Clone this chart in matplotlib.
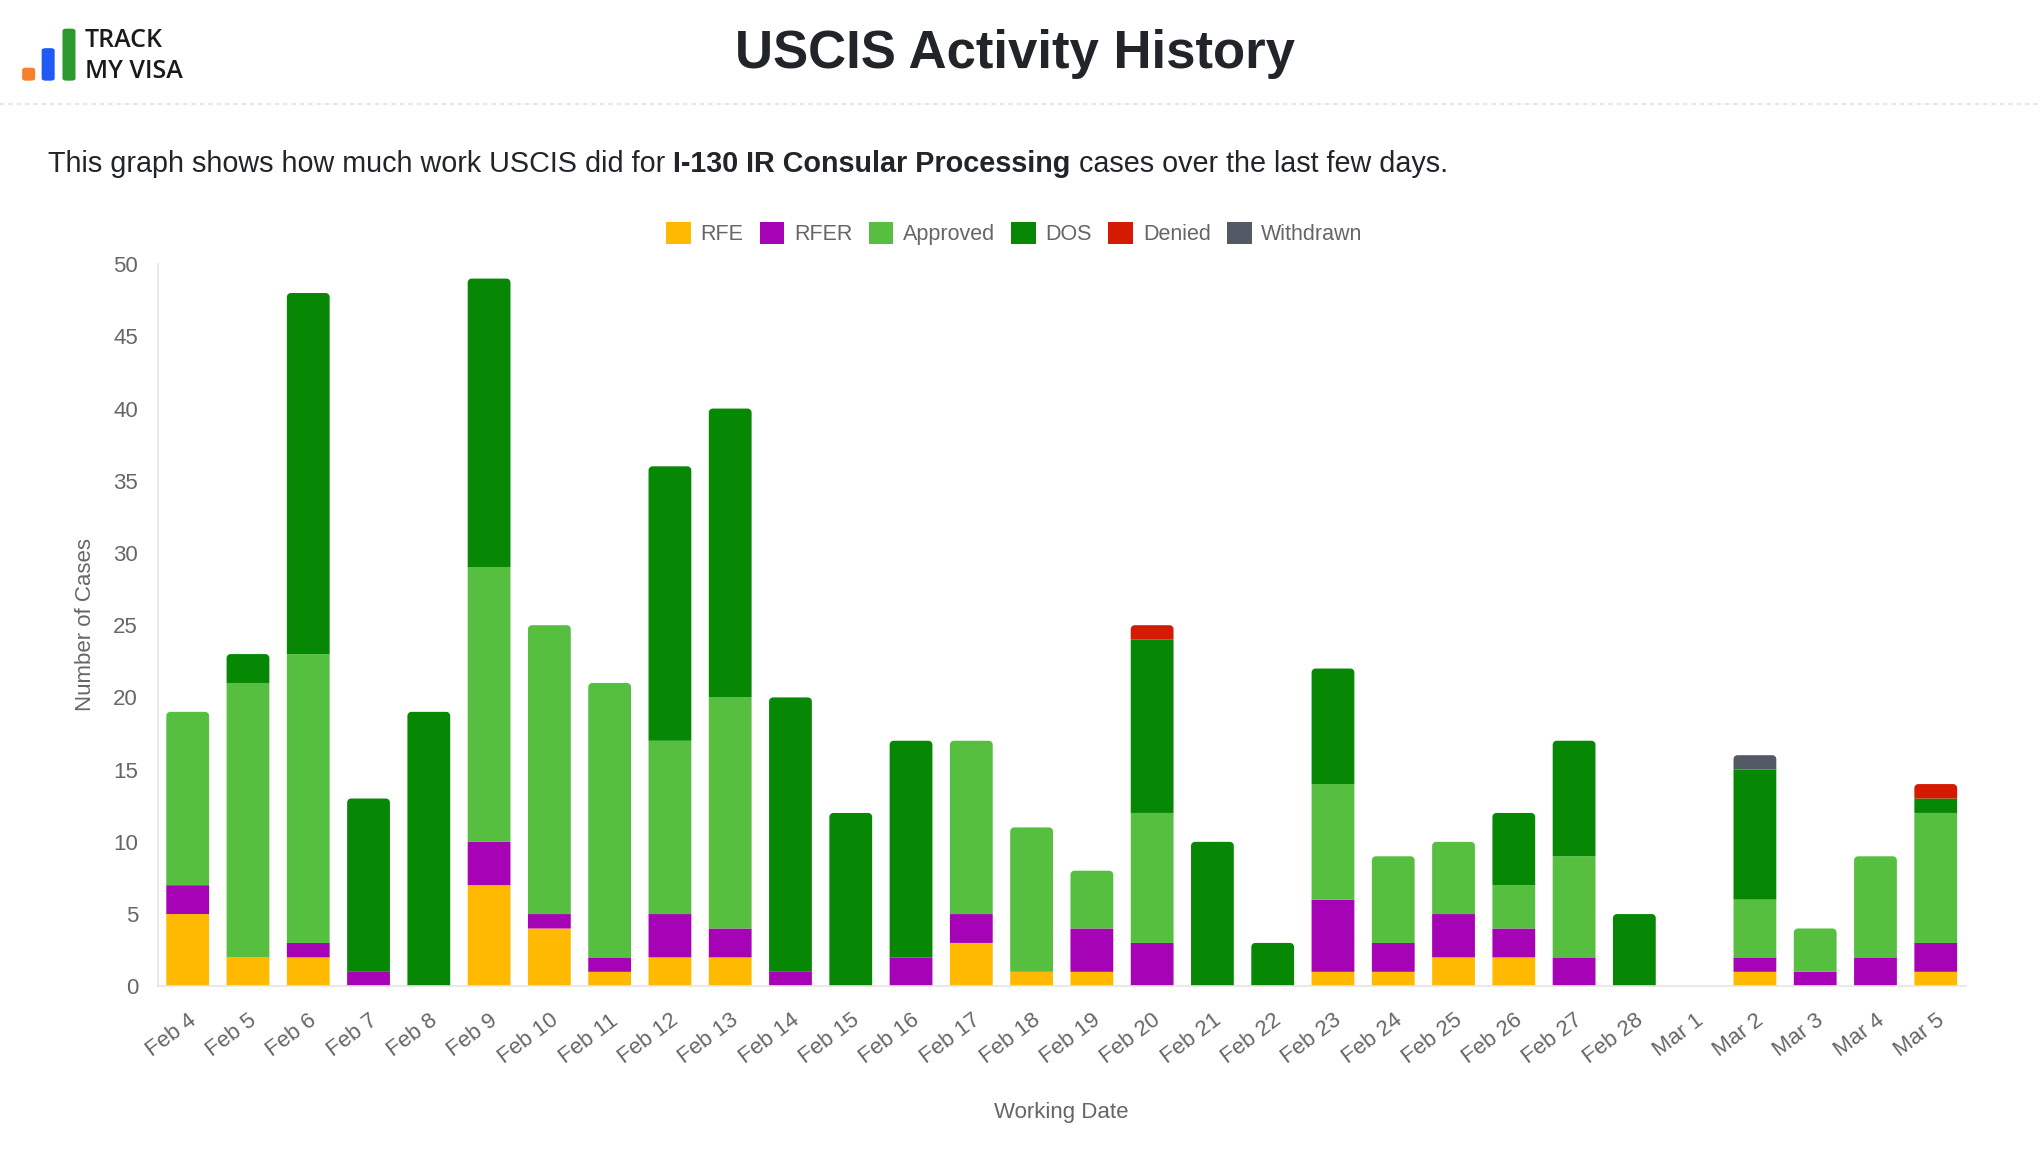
import numpy as np
import matplotlib
matplotlib.use("Agg")
import matplotlib.pyplot as plt
from matplotlib.patches import Patch, FancyBboxPatch, Rectangle, Polygon
from matplotlib.lines import Line2D

plt.rcParams['font.family'] = ['Liberation Sans', 'DejaVu Sans']

# data
dates = ["Feb 4", "Feb 5", "Feb 6", "Feb 7", "Feb 8", "Feb 9", "Feb 10", "Feb 11",
         "Feb 12", "Feb 13", "Feb 14", "Feb 15", "Feb 16", "Feb 17", "Feb 18", "Feb 19",
         "Feb 20", "Feb 21", "Feb 22", "Feb 23", "Feb 24", "Feb 25", "Feb 26", "Feb 27",
         "Feb 28", "Mar 1", "Mar 2", "Mar 3", "Mar 4", "Mar 5"]
rfe       = [5, 2, 2, 0, 0, 7, 4, 1, 2, 2, 0, 0, 0, 3, 1, 1, 0, 0, 0, 1, 1, 2, 2, 0, 0, 0, 1, 0, 0, 1]
rfer      = [2, 0, 1, 1, 0, 3, 1, 1, 3, 2, 1, 0, 2, 2, 0, 3, 3, 0, 0, 5, 2, 3, 2, 2, 0, 0, 1, 1, 2, 2]
approved  = [12, 19, 20, 0, 0, 19, 20, 19, 12, 16, 0, 0, 0, 12, 10, 4, 9, 0, 0, 8, 6, 5, 3, 7, 0, 0, 4, 3, 7, 9]
dos       = [0, 2, 25, 12, 19, 20, 0, 0, 19, 20, 19, 12, 15, 0, 0, 0, 12, 10, 3, 8, 0, 0, 5, 8, 5, 0, 9, 0, 0, 1]
denied    = [0, 0, 0, 0, 0, 0, 0, 0, 0, 0, 0, 0, 0, 0, 0, 0, 1, 0, 0, 0, 0, 0, 0, 0, 0, 0, 0, 0, 0, 1]
withdrawn = [0, 0, 0, 0, 0, 0, 0, 0, 0, 0, 0, 0, 0, 0, 0, 0, 0, 0, 0, 0, 0, 0, 0, 0, 0, 0, 1, 0, 0, 0]

series = [("RFE", rfe, "#ffba00"),
          ("RFER", rfer, "#a503b5"),
          ("Approved", approved, "#57bf40"),
          ("DOS", dos, "#068805"),
          ("Denied", denied, "#d41a00"),
          ("Withdrawn", withdrawn, "#545966")]

fig = plt.figure(figsize=(20.41, 11.58), dpi=100)
ax = fig.add_axes([0.0772, 0.1483, 0.886, 0.6236])
ax.set_xlim(-0.5, len(dates) - 0.5)
ax.set_ylim(0, 50)

x = np.arange(len(dates))
width = 0.71
totals = np.sum([np.array(v) for _, v, _ in series], axis=0)
# corner radius of ~4 px, expressed in each data direction
px_x = ax.bbox.width / len(dates)
px_y = ax.bbox.height / 50.0
rx = 4.0 / px_x
ry = 4.0 / px_y


def top_rounded(x0, b, w, h, color):
    r_y = min(ry, h)
    t = np.linspace(0, np.pi / 2, 8)
    right = [(x0 + w - rx + rx * np.cos(a), b + h - r_y + r_y * np.sin(a)) for a in t]
    left = [(x0 + rx - rx * np.cos(a), b + h - r_y + r_y * np.sin(a)) for a in t[::-1]]
    pts = [(x0, b), (x0 + w, b)] + right + left
    return Polygon(pts, closed=True, facecolor=color, edgecolor='none', snap=False)


bottom = np.zeros(len(dates))
for name, vals, col in series:
    vals = np.array(vals, dtype=float)
    for i in range(len(dates)):
        h = vals[i]
        if h <= 0:
            continue
        b = bottom[i]
        if np.isclose(b + h, totals[i]):
            ax.add_patch(top_rounded(x[i] - width / 2, b, width, h, col))
        else:
            ax.add_patch(Rectangle((x[i] - width / 2, b), width, h, facecolor=col,
                                   edgecolor='none', snap=False))
    bottom += vals

ax.set_yticks(np.arange(0, 51, 5))
ax.set_xticks(x)
ax.set_xticklabels(dates, rotation=37, ha='right', va='top', rotation_mode='anchor')
ax.tick_params(axis='both', length=0, labelsize=16, labelcolor='#666666')
ax.tick_params(axis='y', pad=14)
ax.tick_params(axis='x', pad=17)
for s in ['top', 'right']:
    ax.spines[s].set_visible(False)
for s in ['left', 'bottom']:
    ax.spines[s].set_color('#e5e5e5')
    ax.spines[s].set_linewidth(1.2)

fig.text(0.042, 0.461, "Number of Cases", rotation=90, ha='center', va='center',
         fontsize=16, color='#666666')
fig.text(0.520, 0.039, "Working Date", ha='center', va='center',
         fontsize=16, color='#666666')

# legend
handles = [Patch(facecolor=c, edgecolor='none', label=n) for n, _, c in series]
fig.legend(handles=handles, loc='center', bbox_to_anchor=(0.497, 0.798), ncol=6,
           frameon=False, fontsize=15.5, labelcolor='#666666', handlelength=1.15,
           handleheight=1.15, handletextpad=0.45, columnspacing=0.75)

# header
fig.text(0.4974, 0.953, "USCIS Activity History", ha='center', va='center',
         fontsize=38, fontweight='bold', color='#212529')
fig.add_artist(Line2D([0, 1], [0.910, 0.910], transform=fig.transFigure,
                      color='#e6e6e6', linewidth=1.5, linestyle=(0, (2, 2))))

t1 = fig.text(0.0236, 0.858, "This graph shows how much work USCIS did for ",
              ha='left', va='center', fontsize=20.7, color='#212529')
t2 = ax.annotate("I-130 IR Consular Processing", xy=(1, 0), xycoords=t1,
                 ha='left', va='bottom', fontsize=20.7, fontweight='bold', color='#212529',
                 annotation_clip=False)
ax.annotate(" cases over the last few days.", xy=(1, 0), xycoords=t2,
            ha='left', va='bottom', fontsize=20.7, color='#212529', annotation_clip=False)

# logo
logo = [(17, 52, "#f5822a"), (32, 37, "#1f5af5"), (48, 22, "#2d982d")]
for lx, ly, lc in logo:
    fig.add_artist(FancyBboxPatch((lx / 1568, 1 - 62 / 890), 10 / 1568, (62 - ly) / 890,
                                  boxstyle="round,pad=0,rounding_size=0.002",
                                  transform=fig.transFigure, facecolor=lc, edgecolor='none'))
fig.text(65 / 1568, 1 - 31 / 890, "TRACK", ha='left', va='center', fontsize=18,
         fontweight='semibold', color='#1a1a1a', family=['Open Sans', 'DejaVu Sans'])
fig.text(65 / 1568, 1 - 55 / 890, "MY VISA", ha='left', va='center', fontsize=18,
         fontweight='semibold', color='#1a1a1a', family=['Open Sans', 'DejaVu Sans'])

fig.savefig("out.png", dpi=100, facecolor='white')
